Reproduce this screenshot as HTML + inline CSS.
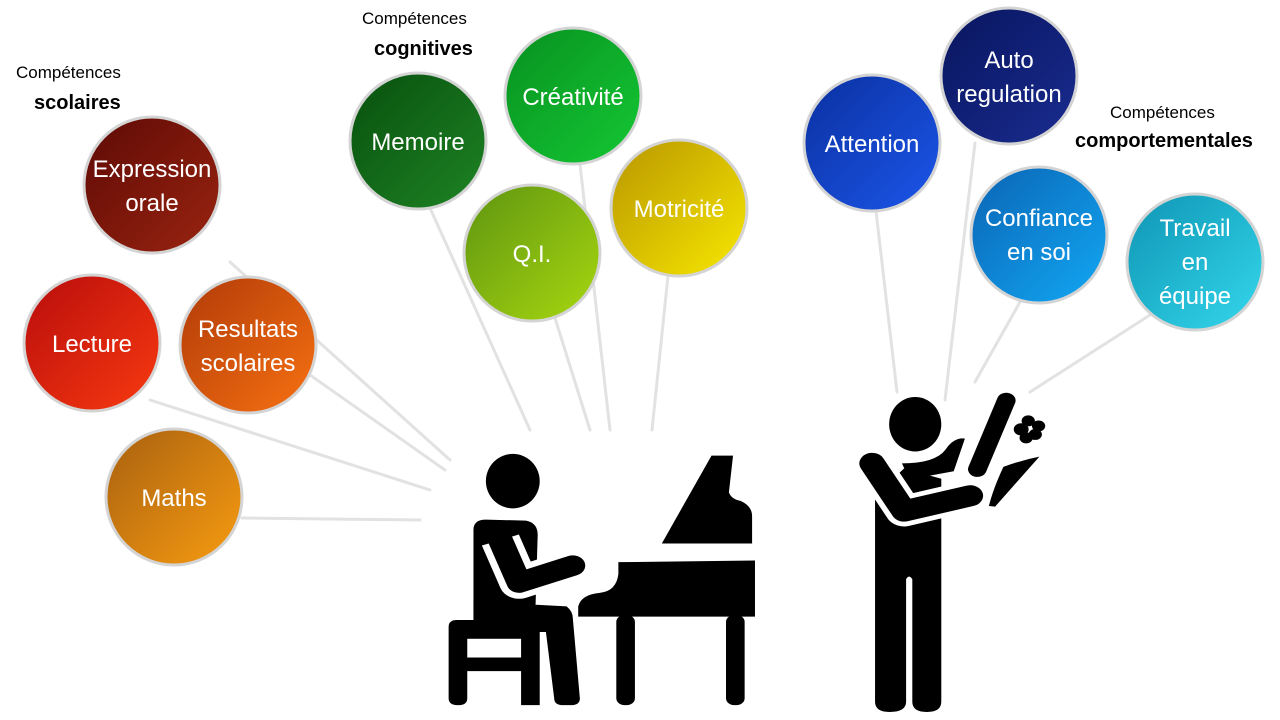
<!DOCTYPE html>
<html><head><meta charset="utf-8"><style>
html,body{margin:0;padding:0;background:#fff;}
svg{display:block;font-family:"Liberation Sans",sans-serif;}
.t{fill:#fff;font-size:24px;text-anchor:middle;}
.l{font-size:17px;fill:#000;}
.b{font-size:20px;font-weight:bold;fill:#000;}
</style></head><body>
<svg width="1280" height="720" viewBox="0 0 1280 720">
<defs>
<linearGradient id="g1" x1="0" y1="0" x2="1" y2="1"><stop offset="0" stop-color="#5e0a06"/><stop offset="1" stop-color="#9a2410"/></linearGradient>
<linearGradient id="g2" x1="0" y1="0" x2="1" y2="1"><stop offset="0" stop-color="#b80c0c"/><stop offset="1" stop-color="#f83a10"/></linearGradient>
<linearGradient id="g3" x1="0" y1="0" x2="1" y2="1"><stop offset="0" stop-color="#b03a08"/><stop offset="1" stop-color="#f87212"/></linearGradient>
<linearGradient id="g4" x1="0" y1="0" x2="1" y2="1"><stop offset="0" stop-color="#a86010"/><stop offset="1" stop-color="#f89c10"/></linearGradient>
<linearGradient id="g5" x1="0" y1="0" x2="1" y2="1"><stop offset="0" stop-color="#08500e"/><stop offset="1" stop-color="#1e8424"/></linearGradient>
<linearGradient id="g6" x1="0" y1="0" x2="1" y2="1"><stop offset="0" stop-color="#089020"/><stop offset="1" stop-color="#14c834"/></linearGradient>
<linearGradient id="g7" x1="0" y1="0" x2="1" y2="1"><stop offset="0" stop-color="#5e9410"/><stop offset="1" stop-color="#a8d810"/></linearGradient>
<linearGradient id="g8" x1="0" y1="0" x2="1" y2="1"><stop offset="0" stop-color="#b89600"/><stop offset="1" stop-color="#f8e800"/></linearGradient>
<linearGradient id="g9" x1="0" y1="0" x2="1" y2="1"><stop offset="0" stop-color="#0a30a0"/><stop offset="1" stop-color="#1c56ea"/></linearGradient>
<linearGradient id="g10" x1="0" y1="0" x2="1" y2="1"><stop offset="0" stop-color="#08155e"/><stop offset="1" stop-color="#1a2c90"/></linearGradient>
<linearGradient id="g11" x1="0" y1="0" x2="1" y2="1"><stop offset="0" stop-color="#0a64b4"/><stop offset="1" stop-color="#12a8f4"/></linearGradient>
<linearGradient id="g12" x1="0" y1="0" x2="1" y2="1"><stop offset="0" stop-color="#0e94b4"/><stop offset="1" stop-color="#34d8ec"/></linearGradient>
</defs>
<g stroke="#e2e2e2" stroke-width="3" stroke-linecap="round">
<line x1="230" y1="262" x2="450" y2="460"/>
<line x1="150" y1="400" x2="430" y2="490"/>
<line x1="310" y1="375" x2="445" y2="470"/>
<line x1="242" y1="518" x2="420" y2="520"/>
<line x1="430" y1="208" x2="530" y2="430"/>
<line x1="555" y1="318" x2="590" y2="430"/>
<line x1="580" y1="164" x2="610" y2="430"/>
<line x1="668" y1="276" x2="652" y2="430"/>
<line x1="876" y1="211" x2="897" y2="392"/>
<line x1="975" y1="143" x2="945" y2="400"/>
<line x1="1020" y1="302" x2="975" y2="382"/>
<line x1="1150" y1="315" x2="1030" y2="392"/>
</g>
<g stroke="#d4d4d4" stroke-width="3">
<circle cx="152" cy="185" r="68" fill="url(#g1)"/>
<circle cx="92" cy="343" r="68" fill="url(#g2)"/>
<circle cx="248" cy="345" r="68" fill="url(#g3)"/>
<circle cx="174" cy="497" r="68" fill="url(#g4)"/>
<circle cx="418" cy="141" r="68" fill="url(#g5)"/>
<circle cx="573" cy="96" r="68" fill="url(#g6)"/>
<circle cx="532" cy="253" r="68" fill="url(#g7)"/>
<circle cx="679" cy="208" r="68" fill="url(#g8)"/>
<circle cx="872" cy="143" r="68" fill="url(#g9)"/>
<circle cx="1009" cy="76" r="68" fill="url(#g10)"/>
<circle cx="1039" cy="235" r="68" fill="url(#g11)"/>
<circle cx="1195" cy="262" r="68" fill="url(#g12)"/>
</g>
<text class="t" x="152" y="177">Expression</text><text class="t" x="152" y="211">orale</text>
<text class="t" x="92" y="352">Lecture</text>
<text class="t" x="248" y="337">Resultats</text><text class="t" x="248" y="371">scolaires</text>
<text class="t" x="174" y="506">Maths</text>
<text class="t" x="418" y="150">Memoire</text>
<text class="t" x="573" y="105">Créativité</text>
<text class="t" x="532" y="262">Q.I.</text>
<text class="t" x="679" y="217">Motricité</text>
<text class="t" x="872" y="152">Attention</text>
<text class="t" x="1009" y="68">Auto</text><text class="t" x="1009" y="102">regulation</text>
<text class="t" x="1039" y="226">Confiance</text><text class="t" x="1039" y="260">en soi</text>
<text class="t" x="1195" y="236">Travail</text><text class="t" x="1195" y="270">en</text><text class="t" x="1195" y="304">équipe</text>
<text class="l" x="16" y="78">Compétences</text><text class="b" x="34" y="109">scolaires</text>
<text class="l" x="362" y="24">Compétences</text><text class="b" x="374" y="55">cognitives</text>
<text class="l" x="1110" y="118">Compétences</text><text class="b" x="1075" y="147">comportementales</text>
<g transform="translate(430,380) scale(0.414,0.3405)" fill="#000">
<ellipse cx="200" cy="297" rx="65" ry="80"/>
<path d="M105,440 Q105,410 135,410 L232,413 Q262,420 260,460 L255,660 L105,705 Z"/>
<path d="M105,705 L105,650 L330,665 Q345,680 345,700 L362,935 Q362,955 340,955 L322,955 Q300,955 300,935 L280,740 L105,740 Z"/>
<path d="M45,725 Q45,705 65,705 L265,705 L265,955 L220,955 L220,855 L90,855 L90,935 Q90,955 68,955 Q45,955 45,935 Z"/>
<rect x="90" y="760" width="130" height="55" fill="#fff"/>
<path d="M170,470 L215,595 L345,545" fill="none" stroke="#fff" stroke-width="95" stroke-linejoin="round"/>
<path d="M170,470 L215,595 L345,545" fill="none" stroke="#000" stroke-width="60" stroke-linecap="round" stroke-linejoin="round"/>
<path d="M560,480 L680,222 L732,222 L722,330 Q728,350 750,355 Q778,370 778,400 L778,480 Z"/>
<path d="M455,535 L455,570 Q450,620 410,625 Q365,630 358,665 L358,695 L785,695 L785,530 Z"/>
<rect x="450" y="690" width="45" height="265" rx="20"/>
<rect x="715" y="690" width="45" height="265" rx="20"/>
<ellipse cx="1172" cy="130" rx="63" ry="80"/>
<path d="M1075,340 L1075,945 Q1075,975 1110,975 Q1150,975 1150,945 L1150,585 Q1157,570 1165,585 L1165,945 Q1165,975 1200,975 Q1235,975 1235,945 L1235,290 L1145,260 Z"/>
<path d="M1068,245 L1145,385 L1305,340" fill="none" stroke="#fff" stroke-width="90" stroke-linejoin="round"/>
<path d="M1068,245 L1145,385 L1305,340" fill="none" stroke="#000" stroke-width="62" stroke-linecap="round" stroke-linejoin="round"/>
<path d="M1140,245 L1158,292 L1265,268 L1292,172 Q1265,168 1245,205 Q1220,245 1140,245 Z"/>
<line x1="1322" y1="262" x2="1392" y2="60" stroke="#000" stroke-width="45" stroke-linecap="round"/>
<path d="M1385,255 Q1430,235 1472,225 L1365,372 L1350,370 Q1360,320 1385,255 Z"/>
<circle cx="1445" cy="120" r="16"/><circle cx="1470" cy="135" r="16"/><circle cx="1462" cy="160" r="16"/><circle cx="1440" cy="170" r="16"/><circle cx="1428" cy="145" r="18"/>
</g>
</svg>
</body></html>
